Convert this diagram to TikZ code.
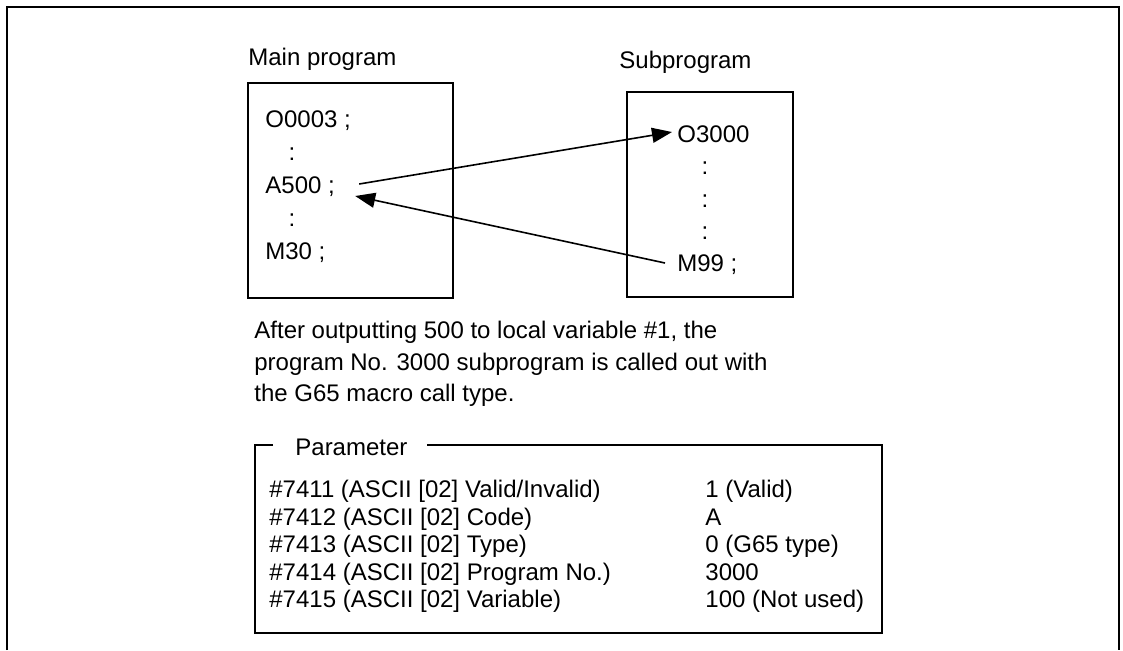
\documentclass[tikz,border=0pt]{standalone}
\usepackage{fontspec}
\setmainfont{Liberation Sans}
\usetikzlibrary{arrows.meta,calc}

\begin{document}
\begin{tikzpicture}[x=0.5pt, y=-0.5pt,
  every node/.style={font=\fontsize{12pt}{14pt}\selectfont, inner sep=0pt},
  txt/.style={anchor=base west},
  dots/.style={anchor=base},
  progbox/.style={draw, line width=0.8pt},
  call/.style={-{Triangle[length=10pt,width=7.5pt]}, line width=0.8pt}]
\useasboundingbox (0,0) rectangle (1123,650);
% outer frame, open at the bottom
\draw[line width=1.3pt] (7,650) -- (7,7) -- (1119,7) -- (1119,650);
% main program
\node[txt] (mainlbl) at (248,65) {Main program};
\draw[progbox] (248,83) rectangle (453,298);
\node[txt] (o0003) at (265,127) {O0003 ;};
\node[dots] (md1) at (292,160) {:};
\node[txt] (a500) at (265,193) {A500 ;};
\node[dots] (md2) at (292,226) {:};
\node[txt] (m30) at (265,259) {M30 ;};
% subprogram
\node[txt] (sublbl) at (619,68) {Subprogram};
\draw[progbox] (627,92) rectangle (793,297);
\node[txt] (o3000) at (677,142) {O3000};
\node[dots] (sd1) at (705,174) {:};
\node[dots] (sd2) at (705,207) {:};
\node[dots] (sd3) at (705,239) {:};
\node[txt] (m99) at (677,271) {M99 ;};
% call and return
\draw[call] ($(a500.base east)+(24,-9)$) -- ($(o3000.base west)+(-5,-10)$);
\draw[call] ($(m99.base west)+(-12,-8)$) -- ($(a500.base east)+(20,3)$);
% explanation
\node[txt] (cap1) at (254,338) {After outputting 500 to local variable \#1, the};
\node[txt] (cap2) at (254,370) {program No. 3000 subprogram is called out with};
\node[txt] (cap3) at (254,401) {the G65 macro call type.};
% parameter box
\draw[line width=0.8pt] (273,445) -- (255,445) -- (255,633) -- (882,633) -- (882,445) -- (427,445);
\node[txt] (parlbl) at (295,455) {Parameter};
\node[txt] (k7411) at (269,497) {\#7411 (ASCII [02] Valid/Invalid)};
\node[txt] (k7412) at (269,525) {\#7412 (ASCII [02] Code)};
\node[txt] (k7413) at (269,552) {\#7413 (ASCII [02] Type)};
\node[txt] (k7414) at (269,580) {\#7414 (ASCII [02] Program No.)};
\node[txt] (k7415) at (269,607) {\#7415 (ASCII [02] Variable)};
\node[txt] (v7411) at (705,497) {1 (Valid)};
\node[txt] (v7412) at (705,525) {A};
\node[txt] (v7413) at (705,552) {0 (G65 type)};
\node[txt] (v7414) at (705,580) {3000};
\node[txt] (v7415) at (705,607) {100 (Not used)};
\end{tikzpicture}
\end{document}
